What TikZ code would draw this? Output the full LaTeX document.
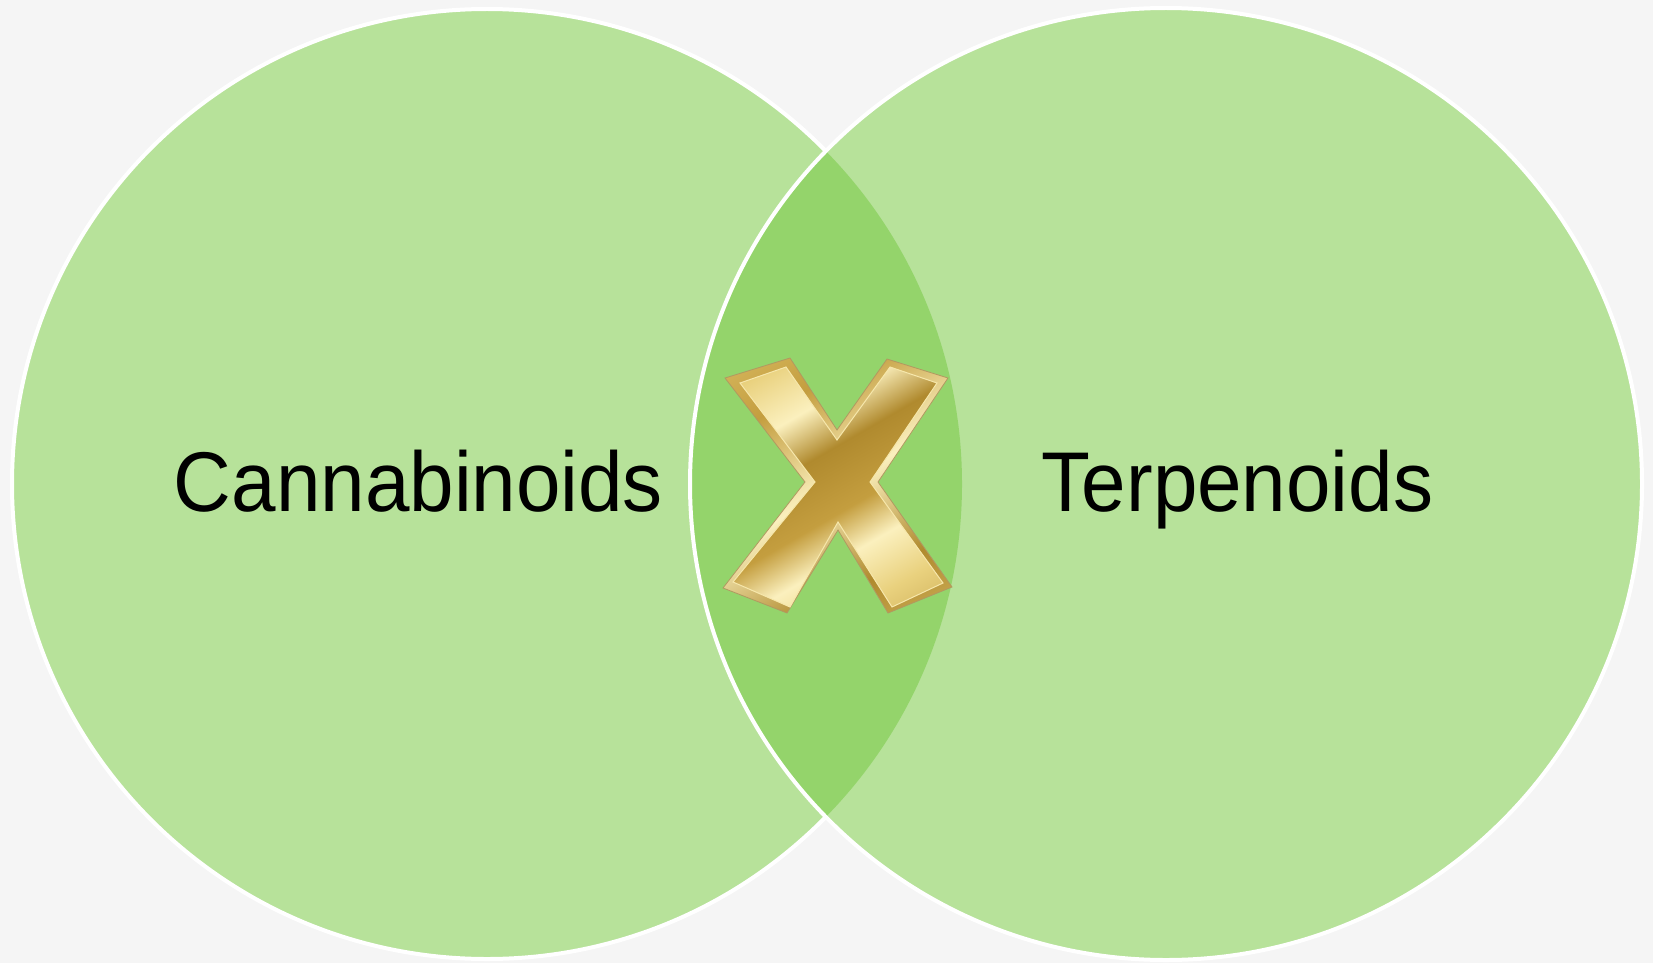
\documentclass[tikz,border=0pt]{standalone}
\usepackage{fontspec}
\setmainfont{Liberation Sans}
\definecolor{bgc}{HTML}{F5F5F5}
\definecolor{circc}{HTML}{B7E29A}
\definecolor{interc}{HTML}{94D46B}
\definecolor{gA}{HTML}{B08A2E}
\definecolor{gB}{HTML}{E9D17E}
\definecolor{gC}{HTML}{FBF0BE}
\definecolor{gD}{HTML}{C49E3F}
\definecolor{gE}{HTML}{8F6D1E}
\pgfdeclarehorizontalshading{goldface}{100bp}{color(0bp)=(gD); color(20bp)=(gB); color(32bp)=(gC); color(42bp)=(gA); color(55bp)=(gD); color(64bp)=(gC); color(75bp)=(gB); color(100bp)=(gA)}
\pgfdeclarehorizontalshading{goldrim}{100bp}{color(0bp)=(gB); color(30bp)=(gD); color(50bp)=(gC); color(70bp)=(gA); color(100bp)=(gB)}
\tikzset{
  vennset/.style={fill=circc},
  whiteedge/.style={draw=white, line width=4pt},
  label/.style={font=\fontsize{80}{92}\selectfont, text=black, anchor=base, inner sep=0pt, yscale=1.06, transform shape},
}
\begin{document}
\begin{tikzpicture}[x=1pt,y=-1pt]
\useasboundingbox (0,0) rectangle (1653,963);
\fill[bgc] (0,0) rectangle (1653,963);
% circles
\coordinate (cl) at (487,484);
\coordinate (cr) at (1166,484);
\fill[vennset] (cl) circle[radius=475];
\draw[whiteedge] (cl) circle[radius=475];
\fill[vennset] (cr) circle[radius=476];
% intersection
\begin{scope}
  \clip (cl) circle[radius=475];
  \fill[interc] (cr) circle[radius=476];
\end{scope}
\draw[whiteedge] (cr) circle[radius=476];
% labels
\node[label] (cann) at (418.5,511) {Cannabinoids};
\node[label] (terp) at (1237.5,511) {Terpenoids};
% gold X
\path[shading=goldrim, shading angle=-60, draw=gE!70, line width=0.8pt]
  (725,378) -- (790,358) -- (837,430) -- (887,359) -- (948,378) -- (878,482)
  -- (952,587) -- (888,613) -- (838,530) -- (787,613) -- (723,588) -- (805,482) -- cycle;
\path[shading=goldface, shading angle=-60, draw=gC!70!gB, line width=1pt]
  (740,383) -- (786,367) -- (837,440) -- (890,367) -- (937,383) -- (870,482)
  -- (943,583) -- (892,607) -- (838,522) -- (790,607) -- (733,582) -- (815,482) -- cycle;
\end{tikzpicture}
\end{document}
